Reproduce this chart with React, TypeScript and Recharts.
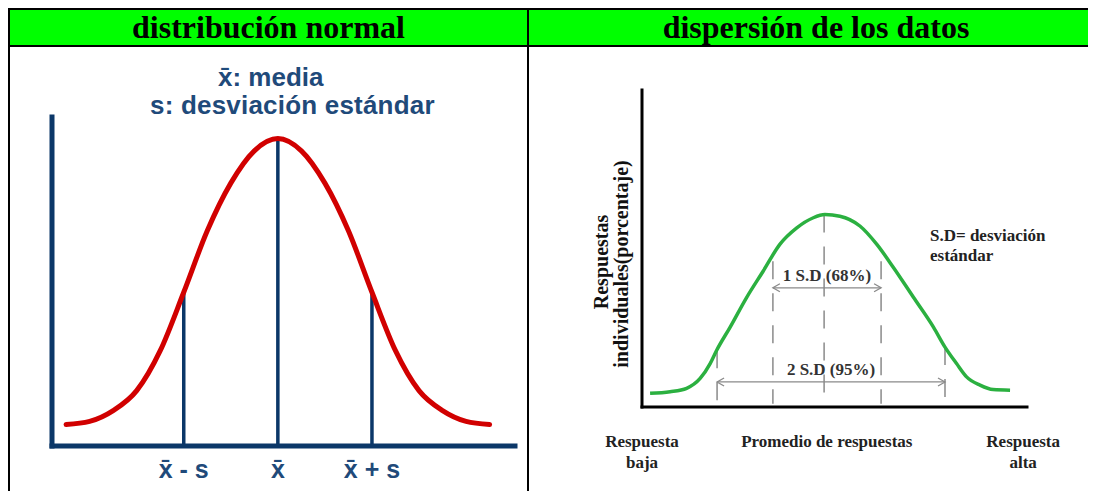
import React from "react";
import { ComposedChart, Line, XAxis, YAxis, ReferenceLine } from "recharts";

// --- left panel: normal curve, x measured in "s" from the mean ---
const normalX = [-2.25, -2, -1.75, -1.5, -1.25, -1, -0.75, -0.5, -0.25, 0, 0.25, 0.5, 0.75, 1, 1.25, 1.5, 1.75, 2, 2.25];
const normalY = [0.07, 0.08, 0.115, 0.18, 0.31, 0.5, 0.7, 0.855, 0.96, 1, 0.96, 0.855, 0.7, 0.5, 0.31, 0.18, 0.115, 0.08, 0.07];
const normalTicks = [-1, 0, 1];
const normalTickLabels = ["x\u0304 - s", "x\u0304", "x\u0304 + s"];

// --- right panel: responses (x 0..100, y in % of axis height) ---
const respX = [2.1, 7.3, 11.6, 15.1, 17.7, 19.4, 22.9, 27.2, 31.5, 35.8, 40.2, 44.5, 47.5, 51.4, 56.6, 61.0, 65.3, 70.5, 75.7, 78.7, 81.7, 84.3, 87.8, 91.2, 95.6];
const respY = [4.3, 4.8, 5.9, 9.0, 13.7, 17.9, 25.2, 34.6, 42.9, 51.3, 56.5, 59.7, 60.7, 60.2, 57.1, 51.3, 44.0, 34.6, 25.2, 18.9, 13.7, 9.5, 6.9, 5.5, 5.3];
const sdMarkX = [19.5, 34, 47.3, 62.1, 78.7];
const sdMarkTop = [17.9, 46, 60.7, 46, 18.9];
const rangeLabels = ["1 S.D (68%)", "2 S.D (95%)"];
const rangeFrom = [34, 19.5];
const rangeTo = [62.1, 78.7];
const rangeY = [37.6, 7.9];
const respTicks = [0, 48, 99];
const respTickLabels = [["Respuesta", "baja"], ["Promedio de respuestas"], ["Respuesta", "alta"]];

const NAVY = "#0b3768";
const NAVY_TEXT = "#1f4a7a";
const RED = "#d10000";
const GREEN = "#2bb040";
const GRAY = "#8a8a8a";
const SERIF = "'Liberation Serif', 'Times New Roman', serif";
const SANS = "'Liberation Sans', Arial, sans-serif";

const normalData = normalX.map((x, i) => ({ x, y: normalY[i] }));
const respData = respX.map((x, i) => ({ x, y: respY[i] }));

function NormalTick(props: any) {
  const { x, y, payload } = props;
  const label = normalTickLabels[normalTicks.indexOf(payload.value)];
  return (
    <text x={x} y={y + 24} textAnchor="middle" fill={NAVY_TEXT} fontSize={25} fontWeight="bold" fontFamily={SANS}>
      {label}
    </text>
  );
}

function RespTick(props: any) {
  const { x, y, payload } = props;
  const lines = respTickLabels[respTicks.indexOf(payload.value)] || [];
  return (
    <text x={x} y={y + 32} textAnchor="middle" fill="#222" fontSize={17} fontWeight="bold" fontFamily={SERIF}>
      {lines.map((l, i) => (
        <tspan key={i} x={x} dy={i === 0 ? 0 : 21}>
          {l}
        </tspan>
      ))}
    </text>
  );
}

function ArrowShape(props: any) {
  const { x1, y1, x2, y2 } = props;
  const a = 7;
  const b = 4;
  return (
    <g stroke={GRAY} strokeWidth={1.3} fill="none">
      <line x1={x1} y1={y1} x2={x2} y2={y2} />
      <polyline points={`${x1 + a},${y1 - b} ${x1},${y1} ${x1 + a},${y1 + b}`} />
      <polyline points={`${x2 - a},${y2 - b} ${x2},${y2} ${x2 - a},${y2 + b}`} />
    </g>
  );
}

export default function App() {
  const hdr: React.CSSProperties = {
    position: "absolute",
    top: 2,
    height: 35,
    lineHeight: "35px",
    textAlign: "center",
    fontFamily: SERIF,
    fontWeight: "bold",
    fontSize: 32,
    color: "#000",
  };
  return (
    <div style={{ position: "relative", width: 1088, height: 483, overflow: "hidden", background: "#fff" }}>
      {/* table frame */}
      <div style={{ position: "absolute", left: 0, top: 2, width: 1100, height: 35, background: "#00ff00" }} />
      <div style={{ position: "absolute", left: 0, top: 0, width: 1100, height: 2, background: "#000" }} />
      <div style={{ position: "absolute", left: 0, top: 37, width: 1100, height: 2, background: "#000" }} />
      <div style={{ position: "absolute", left: 0, top: 0, width: 2, height: 500, background: "#000" }} />
      <div style={{ position: "absolute", left: 519, top: 0, width: 2, height: 500, background: "#000" }} />
      <div style={{ ...hdr, left: 2, width: 517 }}>distribución normal</div>
      <div style={{ ...hdr, left: 521, width: 574 }}>dispersión de los datos</div>

      {/* left chart */}
      <div style={{ position: "absolute", left: 2, top: 39 }}>
        <ComposedChart width={517} height={444} data={normalData} margin={{ top: 70, right: 12, bottom: 0, left: 0 }}>
          <XAxis
            dataKey="x"
            type="number"
            domain={[-2.4, 2.52]}
            allowDataOverflow
            ticks={normalTicks}
            interval={0}
            height={45}
            tickLine={false}
            axisLine={{ stroke: NAVY, strokeWidth: 5, strokeLinecap: "square" }}
            tick={<NormalTick />}
          />
          <YAxis
            type="number"
            domain={[0, 1.07]}
            allowDataOverflow
            width={42}
            tick={false}
            tickLine={false}
            axisLine={{ stroke: NAVY, strokeWidth: 5, strokeLinecap: "square" }}
          />
          {normalTicks.map((t) => (
            <ReferenceLine
              key={t}
              segment={[{ x: t, y: 0 }, { x: t, y: normalY[normalX.indexOf(t)] }]}
              stroke={NAVY}
              strokeWidth={3.5}
            />
          ))}
          <Line
            dataKey="y"
            type="monotone"
            stroke={RED}
            strokeWidth={5}
            strokeLinecap="round"
            dot={false}
            activeDot={false}
            isAnimationActive={false}
          />
        </ComposedChart>
      </div>

      {/* right chart */}
      <div style={{ position: "absolute", left: 521, top: 39 }}>
        <ComposedChart width={574} height={444} data={respData} margin={{ top: 43, right: 76, bottom: 0, left: 0 }}>
          <XAxis
            dataKey="x"
            type="number"
            domain={[0, 100]}
            allowDataOverflow
            ticks={respTicks}
            interval={0}
            height={84}
            tickLine={false}
            axisLine={{ stroke: "#000", strokeWidth: 3, strokeLinecap: "square" }}
            tick={<RespTick />}
          />
          <YAxis
            type="number"
            domain={[0, 100]}
            allowDataOverflow
            width={113}
            tick={false}
            tickLine={false}
            axisLine={{ stroke: "#000", strokeWidth: 3, strokeLinecap: "square" }}
          />
          {sdMarkX.map((x, i) => (
            <ReferenceLine
              key={x}
              segment={[{ x, y: sdMarkTop[i] }, { x, y: 1 }]}
              stroke={GRAY}
              strokeWidth={1.5}
              strokeDasharray="18 14"
            />
          ))}
          {rangeLabels.map((label, i) => (
            <ReferenceLine
              key={label}
              segment={[{ x: rangeFrom[i], y: rangeY[i] }, { x: rangeTo[i], y: rangeY[i] }]}
              stroke={GRAY}
              shape={ArrowShape}
              label={{
                value: label,
                position: "top",
                offset: 7,
                fill: "#333",
                fontSize: 17,
                fontWeight: "bold",
                fontFamily: SERIF,
              }}
            />
          ))}
          <Line
            dataKey="y"
            type="monotone"
            stroke={GREEN}
            strokeWidth={3.5}
            dot={false}
            activeDot={false}
            isAnimationActive={false}
          />
        </ComposedChart>
      </div>

      {/* annotation text */}
      <svg width={1088} height={483} style={{ position: "absolute", left: 0, top: 0, pointerEvents: "none" }}>
        <g fill={NAVY_TEXT} fontFamily={SANS} fontWeight="bold" fontSize={26}>
          <text x={210} y={78}>{"x\u0304: media"}</text>
          <text x={142} y={106} letterSpacing={0.2}>s: desviación estándar</text>
        </g>
        <g fill="#222" fontFamily={SERIF} fontWeight="bold" fontSize={17}>
          <text x={922} y={233}>S.D= desviación</text>
          <text x={922} y={253}>estándar</text>
        </g>
        <g fill="#111" fontFamily={SERIF} fontWeight="bold" fontSize={20} textAnchor="middle" dominantBaseline="central">
          <text transform="translate(593,254) rotate(-90)">Respuestas</text>
          <text transform="translate(613,256) rotate(-90)">individuales(porcentaje)</text>
        </g>
      </svg>
    </div>
  );
}
